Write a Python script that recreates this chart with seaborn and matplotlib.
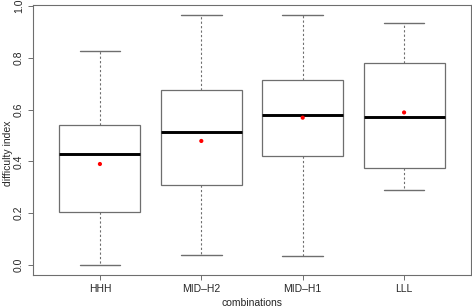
#!/usr/bin/env python3
import pandas as pd
import numpy as np
import matplotlib
matplotlib.use('Agg')
import matplotlib.pyplot as plt
import seaborn as sns

# ─── Datos ─────────────────────────────────────────────────────────────────────
combos   = ['HHH', 'MID\u2013H2', 'MID\u2013H1', 'LLL']
lo_whisk = [0.000, 0.037, 0.034, 0.290]
q1       = [0.205, 0.310, 0.420, 0.375]
medians  = [0.429, 0.515, 0.580, 0.571]
q3       = [0.542, 0.677, 0.713, 0.779]
hi_whisk = [0.827, 0.964, 0.964, 0.933]
means    = [0.390, 0.479, 0.569, 0.589]

# five-number summary per group -> long table for seaborn
rows = []
for i, c in enumerate(combos):
    for v in (lo_whisk[i], q1[i], medians[i], q3[i], hi_whisk[i]):
        rows.append({'combinations': c, 'difficulty index': v})
df = pd.DataFrame(rows)
df_mean = pd.DataFrame({'combinations': combos, 'mean': means})

# ─── Estilo ────────────────────────────────────────────────────────────────────
sns.set_style('white')
plt.rcParams['font.family'] = ['Liberation Sans', 'DejaVu Sans']

fig = plt.figure(figsize=(4.72, 3.07), dpi=100)
ax = fig.add_axes([33 / 472, 32 / 307, 438 / 472, 270 / 307])

grey = '#6e6e6e'
sns.boxplot(
    data=df, x='combinations', y='difficulty index', order=combos,
    whis=np.inf, width=0.8, color='white', linecolor=grey, linewidth=0.9,
    medianprops=dict(color='black', linewidth=2.1),
    whiskerprops=dict(color=grey, linewidth=0.8, linestyle=(0, (2, 2))),
    capprops=dict(color=grey, linewidth=1.0),
    showfliers=False, ax=ax
)
# caps half the box width, like R
for line in ax.lines:
    xd = line.get_xdata()
    yd = line.get_ydata()
    if len(xd) == 2 and yd[0] == yd[1] and line.get_linestyle() == '-' \
            and abs(xd[1] - xd[0]) < 0.6 and line.get_linewidth() < 2:
        c = (xd[0] + xd[1]) / 2
        line.set_xdata([c - 0.2, c + 0.2])

sns.scatterplot(data=df_mean, x='combinations', y='mean', color='red',
                s=9, edgecolor='none', zorder=5, ax=ax)

ax.set_xlim(0.5 - 1 - 0.16, 4.5 - 1 + 0.16)
ax.set_ylim(-0.0386, 1.004)
ax.set_yticks([0.0, 0.2, 0.4, 0.6, 0.8, 1.0])
ax.set_yticklabels(['0.0', '0.2', '0.4', '0.6', '0.8', '1.0'],
                   rotation=90, va='center')
ax.set_xlabel('combinations', fontsize=7.5, labelpad=3)
ax.set_ylabel('')
fig.text(8 / 472, 0.5, 'difficulty index', rotation=90, fontsize=7.5,
         ha='center', va='center')
ax.tick_params(axis='both', labelsize=7.5, length=3.5, width=0.7,
               color=grey, direction='out', pad=3, left=True, bottom=True)
for s in ax.spines.values():
    s.set_color(grey)
    s.set_linewidth(0.8)

fig.savefig('out.png', dpi=100)
